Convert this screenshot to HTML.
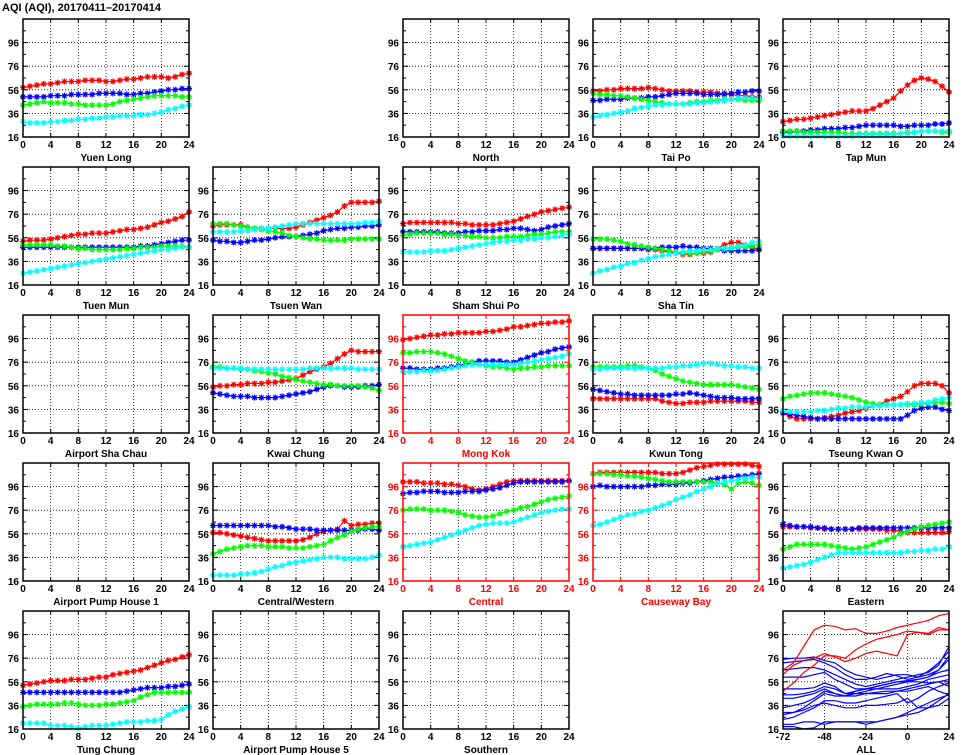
<!DOCTYPE html>
<html><head><meta charset="utf-8">
<style>
html,body{margin:0;padding:0;background:#fff;}
svg{display:block;}
text{font-family:"Liberation Sans",sans-serif;font-weight:bold;}
</style></head>
<body>
<svg id="chart" width="965" height="755" viewBox="0 0 965 755" xmlns="http://www.w3.org/2000/svg">
<rect x="0" y="0" width="965" height="755" fill="#fff"/>
<text x="2" y="11" font-size="11" fill="#000">AQI (AQI), 20170411–20170414</text>
</svg>
<script>
const hours = [0,1,2,3,4,5,6,7,8,9,10,11,12,13,14,15,16,17,18,19,20,21,22,23,24];
const yTicks = [16,36,56,76,96];
const xTicks = [0,4,8,12,16,20,24];
const allXTicks = [-72,-48,-24,0,24];
const allHours = [-72,-66,-60,-54,-48,-42,-36,-30,-24,-18,-12,-6,0,6,12,18,24];
const seriesColors = ['#ff0000','#0000ff','#00ff00','#00ffff'];

const yuenLong = [
[58,59,60,61,61,62,63,63,63,64,64,64,63,63,64,65,65,66,67,67,67,66,67,69,70],
[50,50,50,50,51,51,51,52,52,52,52,53,53,53,53,52,52,53,53,54,55,56,56,57,57],
[43,44,45,46,45,45,45,44,44,43,43,43,43,44,46,47,48,49,50,51,51,51,51,50,50],
[29,28,28,28,29,29,30,30,31,31,32,32,33,33,34,34,34,35,35,36,37,39,40,42,43]];
const taiPo = [
[55,55,56,56,57,57,57,57,58,57,56,55,55,55,55,54,54,54,53,53,52,51,51,50,50],
[47,47,48,48,48,49,49,49,50,50,51,52,53,53,53,53,52,52,52,52,53,54,54,55,55],
[53,52,52,51,51,50,49,48,47,46,45,44,44,44,45,46,46,47,47,48,48,48,47,47,47],
[33,34,35,36,37,38,40,41,42,43,43,44,44,44,44,45,45,46,46,47,48,49,49,49,49]];
const tapMun = [
[29,30,31,31,32,33,34,35,36,37,38,38,38,40,43,46,49,55,60,64,66,65,63,59,54],
[20,20,21,21,22,22,23,23,23,24,24,25,26,26,26,26,26,25,25,26,26,26,27,27,28],
[21,21,21,20,20,20,20,20,20,19,19,19,19,19,19,19,19,19,20,20,21,21,21,20,20],
[17,17,17,17,17,17,17,17,17,17,17,18,18,18,18,18,18,19,19,20,21,21,21,21,21]];
const tuenMun = [
[53,54,54,54,55,56,57,58,59,59,60,60,60,61,62,63,63,64,65,67,69,70,72,74,78],
[48,48,48,48,48,48,48,48,48,48,48,48,48,48,48,48,48,49,49,50,51,52,53,54,54],
[50,50,50,50,50,49,49,48,47,47,46,46,46,46,46,47,47,48,48,48,49,49,49,49,48],
[26,27,28,29,30,31,32,33,34,35,36,37,38,39,40,41,42,43,44,45,46,46,47,48,48]];
const tsuenWan = [
[66,67,67,67,67,65,64,64,64,64,64,64,65,67,69,71,73,75,78,83,86,86,86,86,87],
[54,53,53,52,52,53,54,54,55,56,57,57,57,58,59,60,62,63,64,64,65,65,66,66,67],
[68,68,68,67,66,65,64,63,62,61,60,58,57,56,55,55,54,54,54,54,55,55,55,55,55],
[61,61,61,61,62,62,63,64,64,65,66,67,68,68,68,68,68,68,68,68,68,68,69,69,70]];
const shamShuiPo = [
[68,69,69,69,69,69,69,69,68,68,67,67,67,67,68,69,70,72,74,76,78,79,80,81,82],
[61,61,61,61,61,61,60,60,60,61,61,62,62,62,63,63,64,64,63,62,63,65,66,67,68],
[58,59,60,60,60,60,59,59,58,58,57,57,56,56,56,57,57,57,58,59,59,60,61,61,61],
[44,44,44,44,45,45,45,46,47,48,49,50,51,52,53,53,54,54,55,55,56,56,57,58,59]];
const shaTin = [
[47,47,47,47,47,47,47,47,46,46,45,44,43,42,42,43,43,44,47,50,52,52,50,48,46],
[47,47,47,47,47,47,47,47,47,47,48,48,48,49,48,48,47,47,46,45,45,45,45,45,46],
[55,55,55,54,53,51,50,49,48,47,46,45,44,43,43,43,44,45,46,47,47,48,48,49,50],
[26,28,29,31,32,34,35,37,38,40,41,42,43,44,45,45,46,46,47,47,48,49,50,52,53]];
const kwaiChung = [
[55,56,56,57,57,58,58,58,59,59,60,61,62,65,68,70,72,75,79,83,86,85,85,85,85],
[50,49,48,47,47,47,46,46,46,46,47,48,49,50,51,53,55,56,56,55,55,55,56,56,57],
[72,72,71,71,70,70,69,68,67,66,64,63,61,60,59,58,57,57,56,56,56,56,55,54,52],
[71,71,71,71,71,70,70,70,70,70,70,70,70,70,71,71,71,71,71,71,71,70,70,70,70]];
const mongKok = [
[95,96,97,98,99,99,100,100,101,101,101,101,102,102,103,104,106,106,107,108,109,109,110,110,111],
[71,71,70,70,70,71,71,72,73,74,76,77,77,77,77,76,76,78,80,82,84,85,87,88,89],
[84,84,85,85,85,84,83,81,79,77,76,74,73,72,72,71,70,71,71,72,72,73,73,73,73],
[68,68,68,69,69,69,70,71,72,73,74,74,74,74,74,74,74,75,76,77,78,79,80,81,83]];
const kwunTong = [
[45,45,45,45,45,45,45,45,45,45,43,42,41,41,42,42,42,43,43,43,43,43,43,42,42],
[53,52,51,50,49,49,48,48,48,48,48,48,49,49,50,49,48,47,46,46,46,45,45,45,45],
[72,72,72,72,72,73,73,72,71,69,66,64,62,60,59,58,57,57,57,57,57,56,55,54,53],
[70,70,71,71,71,71,71,71,71,71,71,72,72,73,73,74,75,75,74,73,73,72,72,71,71]];
const tseungKwanO = [
[33,30,28,28,28,28,29,30,31,33,34,35,37,39,40,43,45,47,51,56,58,58,58,56,50],
[33,32,31,30,29,28,28,28,28,28,28,28,28,28,28,28,28,28,31,35,37,38,38,36,35],
[45,47,48,49,50,50,50,49,48,47,46,44,42,41,40,40,40,40,40,40,41,41,42,42,41],
[35,34,34,34,34,35,35,36,37,37,38,38,38,39,39,40,40,40,41,41,42,42,44,45,46]];
const centralWestern = [
[57,57,56,55,54,53,52,51,50,50,50,50,50,51,53,56,58,59,60,67,63,64,64,65,65],
[63,63,63,63,63,63,63,63,63,62,62,61,60,60,60,59,59,59,59,59,59,59,60,60,59],
[39,41,43,44,45,46,46,46,45,45,45,44,44,44,45,46,47,50,53,55,58,60,61,62,62],
[21,21,21,21,22,22,23,24,26,28,29,31,32,33,34,35,36,36,36,35,35,35,35,36,38]];
const central = [
[100,100,100,99,99,99,98,98,97,96,94,93,94,96,98,100,101,101,101,101,101,101,101,101,101],
[90,91,91,92,92,92,91,91,91,92,92,92,93,94,95,97,99,100,100,100,100,100,100,100,101],
[76,77,77,77,76,76,76,75,74,72,71,70,70,71,73,75,76,78,79,81,83,85,86,87,88],
[45,46,47,48,49,51,53,55,57,59,61,63,64,65,65,65,66,68,70,72,74,75,76,77,77]];
const causewayBay = [
[107,108,108,108,108,108,108,108,108,108,107,107,107,108,110,112,113,114,115,115,115,115,115,114,113],
[96,97,96,96,96,96,96,96,97,97,98,98,98,99,99,100,101,102,103,104,104,105,105,106,107],
[107,107,107,106,106,105,105,104,103,102,101,100,100,100,100,100,100,100,99,98,94,99,100,99,97],
[63,64,66,68,70,72,73,75,76,78,80,82,85,87,89,92,94,96,98,100,101,102,103,104,104]];
const eastern = [
[62,62,62,62,61,61,60,60,60,60,60,60,60,60,60,59,59,58,57,57,57,57,57,57,58],
[64,63,62,62,62,61,61,60,60,60,60,61,61,61,61,61,61,61,61,61,61,61,61,61,61],
[43,45,47,47,47,47,47,46,45,44,43,44,45,47,49,51,53,56,58,60,62,63,64,65,66],
[27,28,29,30,32,34,36,38,40,40,40,40,40,40,40,40,40,40,41,41,42,42,43,43,45]];
const tungChung = [
[53,54,55,56,57,57,57,58,58,58,59,60,60,62,63,64,65,66,68,70,72,74,75,77,79],
[47,47,47,47,47,47,47,47,47,47,47,47,47,47,47,48,49,50,51,51,51,52,52,53,54],
[35,36,37,37,37,37,38,38,37,36,36,36,37,37,38,39,40,43,45,47,47,47,47,47,47],
[21,21,21,21,19,19,19,18,17,18,19,19,19,20,21,22,22,22,23,23,24,28,31,33,35]];

const allRed = [
[66,72,86,100,104,103,100,101,97,97,99,102,104,106,108,112,114],
[62,70,74,76,80,77,73,76,80,82,80,78,96,98,96,100,100],
[48,55,64,70,78,78,76,83,88,92,94,96,99,98,97,102,100]];
const allBlue = [
[75,76,76,77,74,72,66,62,60,58,60,62,62,60,62,66,78],
[72,73,74,75,72,68,62,58,58,60,63,61,58,60,65,72,82],
[66,67,68,68,66,62,58,54,52,54,56,58,60,62,64,70,86],
[60,60,60,62,64,58,54,50,50,52,54,56,56,58,60,66,75],
[50,50,50,51,55,52,46,48,50,52,54,56,57,58,60,64,66],
[45,45,46,48,52,50,46,46,48,50,50,50,52,54,58,60,62],
[42,42,44,46,50,46,44,48,50,50,52,54,56,56,55,56,58],
[34,36,38,42,48,46,44,46,46,47,48,48,50,52,54,56,52],
[28,30,34,40,46,44,44,44,46,46,46,48,48,50,52,48,45],
[24,26,30,34,40,40,38,38,40,42,44,46,38,42,48,52,55],
[20,20,22,22,20,22,22,22,20,22,24,26,30,34,38,42,45],
[18,18,16,17,22,22,22,22,22,22,24,26,28,30,34,40,46],
[30,30,32,36,38,36,34,34,36,36,37,38,42,34,34,36,42]];

const panels = [
{name:'Yuen Long',r:0,c:0,data:yuenLong,alert:false},
{name:'North',r:0,c:2,data:null,alert:false},
{name:'Tai Po',r:0,c:3,data:taiPo,alert:false},
{name:'Tap Mun',r:0,c:4,data:tapMun,alert:false},
{name:'Tuen Mun',r:1,c:0,data:tuenMun,alert:false},
{name:'Tsuen Wan',r:1,c:1,data:tsuenWan,alert:false},
{name:'Sham Shui Po',r:1,c:2,data:shamShuiPo,alert:false},
{name:'Sha Tin',r:1,c:3,data:shaTin,alert:false},
{name:'Airport Sha Chau',r:2,c:0,data:null,alert:false},
{name:'Kwai Chung',r:2,c:1,data:kwaiChung,alert:false},
{name:'Mong Kok',r:2,c:2,data:mongKok,alert:true},
{name:'Kwun Tong',r:2,c:3,data:kwunTong,alert:false},
{name:'Tseung Kwan O',r:2,c:4,data:tseungKwanO,alert:false},
{name:'Airport Pump House 1',r:3,c:0,data:null,alert:false},
{name:'Central/Western',r:3,c:1,data:centralWestern,alert:false},
{name:'Central',r:3,c:2,data:central,alert:true},
{name:'Causeway Bay',r:3,c:3,data:causewayBay,alert:true},
{name:'Eastern',r:3,c:4,data:eastern,alert:false},
{name:'Tung Chung',r:4,c:0,data:tungChung,alert:false},
{name:'Airport Pump House 5',r:4,c:1,data:null,alert:false},
{name:'Southern',r:4,c:2,data:null,alert:false},
{name:'ALL',r:4,c:4,data:null,all:true,alert:false}];

const NS='http://www.w3.org/2000/svg';
const svg=document.getElementById('chart');
const W=166,H=118,Y0=16,Y1=116;
function mk(tag,attrs,parent){const e=document.createElementNS(NS,tag);for(const k in attrs)e.setAttribute(k,attrs[k]);parent.appendChild(e);return e;}
function slug(s){return s.toLowerCase().replace(/[^a-z0-9]+/g,'-').replace(/-$/,'');}

panels.forEach(p=>{
  const x0=23+190*p.c, y0=19+148*p.r;
  const col=p.alert?'#ff0000':'#000';
  const xmin=p.all?-72:0, xmax=p.all?24:24;
  const xs=v=>x0+(v-xmin)/(xmax-xmin)*W;
  const ys=v=>y0+H-(v-Y0)/(Y1-Y0)*H;
  const g=mk('g',{},svg);
  
  
  // grid
  const gx=p.all?[-48,-24,0]:[4,8,12,16,20];
  gx.forEach(v=>{const l=mk('line',{x1:xs(v),x2:xs(v),y1:y0,y2:y0+H,stroke:'#000','stroke-width':0.8,'stroke-dasharray':'1,2'},g);
    
    });
  [36,56,76,96].forEach(v=>{const l=mk('line',{x1:x0,x2:x0+W,y1:ys(v),y2:ys(v),stroke:'#000','stroke-width':0.8,'stroke-dasharray':'1,2'},g);
    
    });
  // minor ticks
  [26,46,66,86,106].forEach(v=>{mk('line',{x1:x0,x2:x0+3,y1:ys(v),y2:ys(v),stroke:col,'stroke-width':1},g);mk('line',{x1:x0+W,x2:x0+W-3,y1:ys(v),y2:ys(v),stroke:col,'stroke-width':1},g);});
  const xt=p.all?allXTicks:xTicks;
  xt.forEach(v=>{mk('line',{x1:xs(v),x2:xs(v),y1:y0+H,y2:y0+H-4,stroke:col,'stroke-width':1},g);mk('line',{x1:xs(v),x2:xs(v),y1:y0,y2:y0+4,stroke:col,'stroke-width':1},g);
    const t=mk('text',{x:xs(v),y:y0+H+11,'font-size':10,'text-anchor':'middle',fill:col},g);t.textContent=v;
    
    });
  yTicks.forEach(v=>{mk('line',{x1:x0,x2:x0+5,y1:ys(v),y2:ys(v),stroke:col,'stroke-width':1},g);mk('line',{x1:x0+W,x2:x0+W-5,y1:ys(v),y2:ys(v),stroke:col,'stroke-width':1},g);
    const t=mk('text',{x:x0-4,y:ys(v)+4,'font-size':10,'text-anchor':'end',fill:col},g);t.textContent=v;
    
    });
  // series
  const drawLine=(xv,vals,color,markers,name)=>{
    const pts=vals.map((v,i)=>xs(xv[i]).toFixed(1)+','+ys(v).toFixed(1)).join(' ');
    const pl=mk('polyline',{points:pts,fill:'none',stroke:color,'stroke-width':1.2},g);
    
    
    if(markers){vals.forEach((v,i)=>{const cx=xs(xv[i]),cy=ys(v),s=3,d=2.2;
      const m=mk('path',{d:`M${cx-s},${cy}H${cx+s}M${cx},${cy-s}V${cy+s}M${cx-d},${cy-d}L${cx+d},${cy+d}M${cx-d},${cy+d}L${cx+d},${cy-d}`,stroke:color,'stroke-width':1.2,fill:'none'},g);
      
      });}
  };
  if(p.data){['red','blue','green','cyan'].forEach((nm,si)=>drawLine(hours,p.data[si],seriesColors[si],true,'series-'+nm));}
  if(p.all){allBlue.forEach(a=>drawLine(allHours,a,'#0000ff',false,'all-blue-line'));allRed.forEach(a=>drawLine(allHours,a,'#ff0000',false,'all-red-line'));}
  const fr=mk('rect',{x:x0,y:y0,width:W,height:H,fill:'none',stroke:col,'stroke-width':1.5},g);
  
  
  const tt=mk('text',{x:x0+W/2,y:y0+H+24,'font-size':10,'text-anchor':'middle',fill:col},g);tt.textContent=p.name;
  
  
});
</script>
</body></html>
